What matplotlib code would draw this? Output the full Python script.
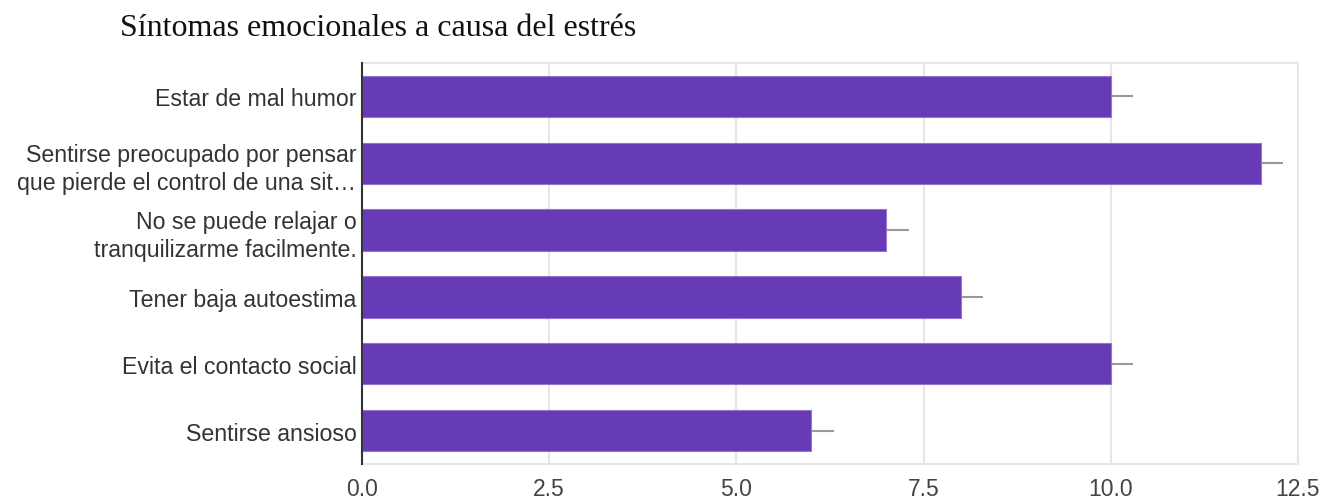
import numpy as np
import matplotlib
matplotlib.use('Agg')
import matplotlib.pyplot as plt

categorias = ['Estar de mal humor',
              'Sentirse preocupado por pensar\nque pierde el control de una sit…',
              'No se puede relajar o\ntranquilizarme facilmente.',
              'Tener baja autoestima',
              'Evita el contacto social',
              'Sentirse ansioso']
valores = [10, 12, 7, 8, 10, 6]
error_der = [0.3, 0.3, 0.3, 0.3, 0.3, 0.3]
ticks_x = [0.0, 2.5, 5.0, 7.5, 10.0, 12.5]

fig = plt.figure(figsize=(13.23, 5.02), dpi=100)
ax = fig.add_axes([0.2736, 0.0737, 0.7075, 0.7988])

y = np.arange(len(categorias))
ax.barh(y, valores, height=0.62, color='#673ab7', edgecolor='#9575cd', linewidth=0.8, zorder=3)
ax.errorbar(valores, y, xerr=[np.zeros(len(valores)), error_der], fmt='none',
            ecolor='#999999', elinewidth=1.5, capsize=0, zorder=2)

ax.set_xlim(0, 12.5)
ax.set_ylim(5.5, -0.5)
ax.set_xticks(ticks_x)
ax.set_xticklabels(['%.1f' % t for t in ticks_x], fontsize=16.5, color='#444444', family='Liberation Sans')
ax.set_yticks(y)
ax.set_yticklabels(categorias, fontsize=16.7, color='#333333', family='Liberation Sans', linespacing=1.3)
ax.tick_params(axis='both', length=0)
ax.tick_params(axis='x', pad=9)
ax.tick_params(axis='y', pad=4)
ax.grid(axis='x', color='#e6e6e6', linewidth=1.5, zorder=0)

for s in ['top', 'right', 'bottom']:
    ax.spines[s].set_color('#e6e6e6')
    ax.spines[s].set_linewidth(1.5)
ax.spines['left'].set_color('#333333')
ax.spines['left'].set_linewidth(1.5)
ax.spines['left'].set_zorder(4)

fig.text(120 / 1323, 1 - 28 / 502, 'Síntomas emocionales a causa del estrés',
         fontsize=23, family='Liberation Serif', color='#111111', va='center', ha='left')

plt.savefig('out.png', dpi=100)
